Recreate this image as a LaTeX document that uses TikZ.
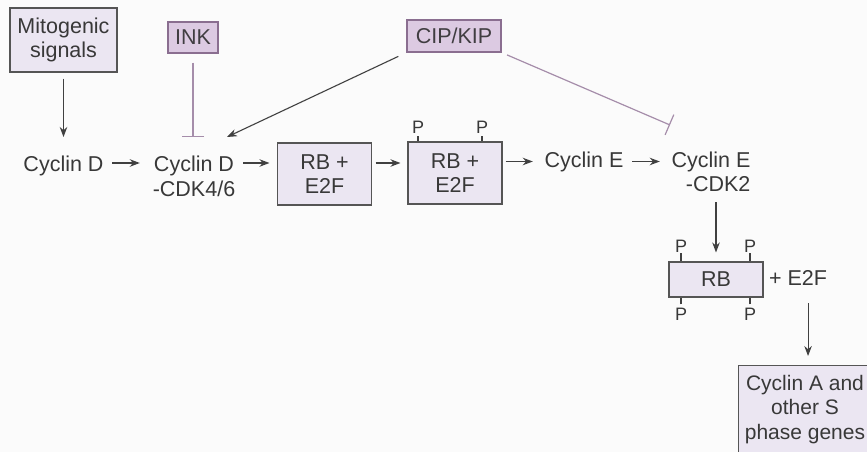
\documentclass[tikz,border=0pt]{standalone}
\usepackage{fontspec}
\setmainfont{Liberation Sans}
\usetikzlibrary{arrows.meta,calc}
\definecolor{bg}{HTML}{FBFBFB}
\definecolor{txt}{HTML}{383838}
\definecolor{lin}{HTML}{404040}
\definecolor{boxfill}{HTML}{EBE6F2}
\definecolor{boxline}{HTML}{555555}
\definecolor{purpfill}{HTML}{DCCAE2}
\definecolor{purpline}{HTML}{8A6E90}
\definecolor{inhline}{HTML}{A58DAA}
\newcommand\fs{\fontsize{21.5}{24.5}\selectfont}
\newcommand\afs{\fontsize{21}{24.5}\selectfont}
\newcommand\pfs{\fontsize{18}{20}\selectfont}
\tikzset{
  lbl/.style={font=\fs, text=txt, inner sep=0pt, align=center},
  lblr/.style={font=\fs, text=txt, inner sep=0pt, align=right},
  box/.style={draw=boxline, fill=boxfill, line width=1.1pt, font=\fs, text=txt, align=center, inner sep=0pt},
  pbox/.style={draw=purpline, fill=purpfill, line width=1.1pt, font=\fs, text=txt!90!purpline, align=center, inner sep=0pt},
  arr/.style={draw=lin, line width=1.1pt, -{Stealth[length=10pt,width=7.5pt]}},
  inh/.style={draw=inhline, line width=1.2pt, -{Bar[width=22pt,line width=1.2pt]}},
  pl/.style={font=\pfs, text=txt, inner sep=0pt},
  tick/.style={draw=lin, line width=1.1pt},
}
\begin{document}
\begin{tikzpicture}[x=1pt,y=-1pt]
\fill[bg] (0,0) rectangle (867,452);
\useasboundingbox (0,0) rectangle (867,452);
\clip (0,0) rectangle (867,452);
% row coordinates
\coordinate (rowA) at (0,163);
\coordinate (rowB) at (0,161.5);
\coordinate (cdin) at (227,137);
\coordinate (ceinh) at (670,125);
% top boxes
\node[box, minimum width=107, minimum height=64] (mito) at (63.5,40) {Mitogenic\\signals};
\node[pbox, minimum width=50, minimum height=31] (ink) at (193,37.5) {INK};
\node[pbox, minimum width=94, minimum height=32] (cip) at (454,36) {CIP/KIP};
% main row
\node[lbl, anchor=north] (cycd) at (63.5,156) {Cyclin D};
\node[lbl, anchor=north] (cycdk) at (194,156) {Cyclin D\\-CDK4/6};
\node[box, minimum width=94, minimum height=62] (rb1) at (324.5,174) {RB +\\E2F};
\node[box, minimum width=94, minimum height=62] (rb2) at (455,173) {RB +\\E2F};
\node[lbl, anchor=north] (cyce) at (584,151.5) {Cyclin E};
\node[lblr, anchor=north] (cycek) at (711,151.5) {Cyclin E\\-CDK2};
% P labels on rb2
\node[pl, anchor=base] (p1) at (418,133) {P};
\node[pl, anchor=base] (p2) at (482,133) {P};
% RB box
\node[box, minimum width=94, minimum height=35] (rb3) at (716,279.5) {RB};
\node[lbl, anchor=base] (e2f) at (798,285.5) {+ E2F};
\node[pl, anchor=base] (p3) at (681,252) {P};
\node[pl, anchor=base] (p4) at (750,252) {P};
\node[pl, anchor=base] (p5) at (681,320) {P};
\node[pl, anchor=base] (p6) at (750,320) {P};
% Cyclin A box
\node[box, minimum width=139, minimum height=100, anchor=north west] (cyca) at (738,365) {};
\node[lbl, font=\afs, anchor=north] (cycat) at (805,375) {Cyclin A and\\other S\\phase genes};
% connectors
\draw[arr, shorten <=6pt, shorten >=19pt] (mito.south) -- (mito.south |- cycd.north);
\draw[inh, shorten <=9pt, shorten >=19pt] (ink.south) -- (ink.south |- cycdk.north);
\draw[arr, shorten <=9pt] (cip.south west) -- (cdin);
\draw[inh, shorten <=6pt] (cip.south east) -- (ceinh);
\draw[arr, shorten <=8.5pt, shorten >=12.8pt] (cycd.east |- rowA) -- (cycdk.west |- rowA);
\draw[arr, shorten <=8pt, shorten >=7.5pt] (cycdk.east |- rowA) -- (rb1.west |- rowA);
\draw[arr, shorten <=3.5pt, shorten >=7pt] (rb1.east |- rowA) -- (rb2.west |- rowA);
\draw[arr, shorten <=3pt, shorten >=11.6pt] (rb2.east |- rowB) -- (cyce.west |- rowB);
\draw[arr, shorten <=8.6pt, shorten >=11.6pt] (cyce.east |- rowB) -- (cycek.west |- rowB);
\draw[arr, shorten <=10pt, shorten >=9pt] (rb3.north |- cycek.south) -- (rb3.north);
\draw[arr, shorten <=17.5pt, shorten >=9pt] (cyca.north |- e2f.south) -- (cyca.north);
% ticks
\draw[tick, shorten <=3pt] (p1.south) -- (p1.south |- rb2.north);
\draw[tick, shorten <=3pt] (p2.south) -- (p2.south |- rb2.north);
\draw[tick, shorten <=1pt] (p3.south) -- (p3.south |- rb3.north);
\draw[tick, shorten <=1pt] (p4.south) -- (p4.south |- rb3.north);
\draw[tick, shorten <=3pt] (p5.north) -- (p5.north |- rb3.south);
\draw[tick, shorten <=3pt] (p6.north) -- (p6.north |- rb3.south);
\end{tikzpicture}
\end{document}
